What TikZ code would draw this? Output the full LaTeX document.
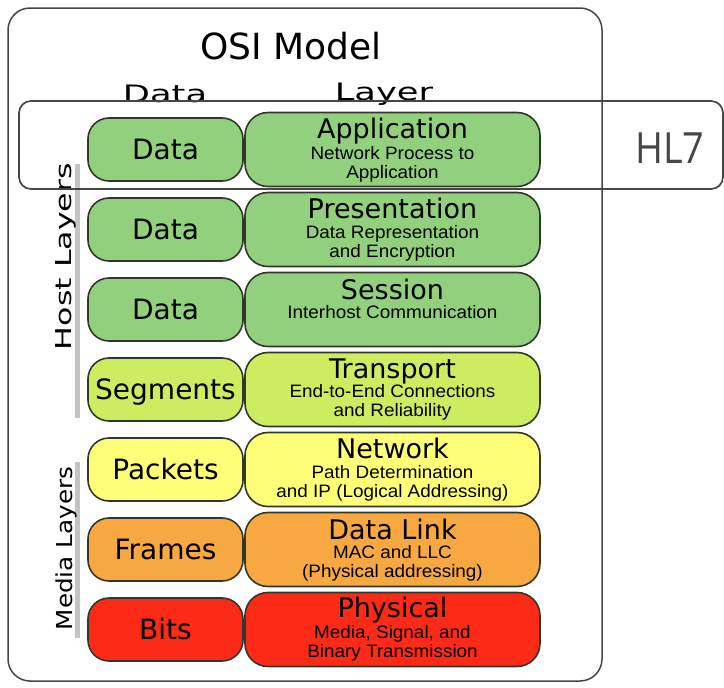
\documentclass[tikz,border=0pt]{standalone}
\usepackage{fontspec}
\usetikzlibrary{positioning}
\newfontfamily\tahoma{DejaVu Sans}
\newfontfamily\widefont[FakeStretch=1.47]{DejaVu Sans}
\newfontfamily\hostfont[FakeStretch=1.44]{DejaVu Sans}
\newfontfamily\mediafont[FakeStretch=1.12]{DejaVu Sans}
\newfontfamily\arial[FakeStretch=1.05]{Liberation Sans}
\newfontfamily\hlfont[FakeStretch=0.88]{Open Sans}
\definecolor{edge}{RGB}{48,56,44}
\definecolor{frame}{RGB}{70,70,70}
\definecolor{host}{RGB}{146,208,125}
\definecolor{trans}{RGB}{206,236,95}
\definecolor{netw}{RGB}{255,255,120}
\definecolor{link}{RGB}{248,168,64}
\definecolor{phys}{RGB}{252,42,22}
\definecolor{hlgray}{RGB}{70,70,70}
\definecolor{bar}{RGB}{196,196,196}

\begin{document}
\begin{tikzpicture}[x=1pt, y=-1pt, node distance=80pt,
                    data node/.style={draw=edge, line width=1.6pt, rounded corners=21pt,
                      minimum width=155pt, minimum height=63pt, inner sep=0pt,
                      text height=20pt, text depth=0pt, font=\tahoma\fontsize{28}{28}\selectfont},
                    layer node/.style={draw=edge, line width=1.6pt, rounded corners=23pt,
                      minimum width=295pt, minimum height=74pt, inner sep=0pt},
                    layer name/.style={anchor=base, inner sep=0pt, font=\tahoma\fontsize{27}{27}\selectfont},
                    layer info/.style={anchor=base, inner sep=0pt, align=center,
                      font=\arial\fontsize{18}{19}\selectfont},
                    side bar/.style={draw=bar, line width=4.5pt}]

  \useasboundingbox (0,0) rectangle (724,688);

  \node[draw=frame, line width=1.5pt, rounded corners=22pt, minimum width=594pt,
        minimum height=673pt, inner sep=0pt] (osi) at (305,344.5) {};

  \node[anchor=base, inner sep=0pt, font=\tahoma\fontsize{36}{36}\selectfont] (title) at (291,59) {OSI Model};
  \node[anchor=base, inner sep=0pt, font=\widefont\fontsize{24}{24}\selectfont] (hdata) at (165,102) {Data};
  \node[anchor=base, inner sep=0pt, font=\widefont\fontsize{24}{24}\selectfont] (hlayer) at (384,100) {Layer};

  \node[data node, fill=host] (d1) at (165.5,149.5) {Data};
  \node[data node, fill=host] (d2) [below of=d1] {Data};
  \node[data node, fill=host] (d3) [below of=d2] {Data};
  \node[data node, fill=trans] (d4) [below of=d3] {Segments};
  \node[data node, fill=netw] (d5) [below of=d4] {Packets};
  \node[data node, fill=link] (d6) [below of=d5] {Frames};
  \node[data node, fill=phys] (d7) [below of=d6] {Bits};

  \node[layer node, fill=host] (l1) at (392.5,149.5) {};
  \node[layer node, fill=host] (l2) [below of=l1] {};
  \node[layer node, fill=host] (l3) [below of=l2] {};
  \node[layer node, fill=trans] (l4) [below of=l3] {};
  \node[layer node, fill=netw] (l5) [below of=l4] {};
  \node[layer node, fill=link] (l6) [below of=l5] {};
  \node[layer node, fill=phys] (l7) [below of=l6] {};

  \node[layer name] (n1) at ([yshift=11pt]l1.center) {Application};
  \node[layer name] (n2) at ([yshift=11pt]l2.center) {Presentation};
  \node[layer name] (n3) at ([yshift=10pt]l3.center) {Session};
  \node[layer name] (n4) at ([yshift=11pt]l4.center) {Transport};
  \node[layer name] (n5) at ([yshift=11pt]l5.center) {Network};
  \node[layer name] (n6) at ([yshift=10pt]l6.center) {Data Link};
  \node[layer name] (n7) at ([yshift=12pt]l7.center) {Physical};

  \node[layer info] (i1) at ([yshift=-29pt]l1.center) {Network Process to\\Application};
  \node[layer info] (i2) at ([yshift=-28pt]l2.center) {Data Representation\\and Encryption};
  \node[layer info] (i3) at ([yshift=-9pt]l3.center) {Interhost Communication};
  \node[layer info] (i4) at ([yshift=-27pt]l4.center) {End-to-End Connections\\and Reliability};
  \node[layer info] (i5) at ([yshift=-28pt]l5.center) {Path Determination\\and IP (Logical Addressing)};
  \node[layer info] (i6) at ([yshift=-28pt]l6.center) {MAC and LLC\\(Physical addressing)};
  \node[layer info] (i7) at ([yshift=-28pt]l7.center) {Media, Signal, and\\Binary Transmission};

  \coordinate (hosttop) at (77.5,164);
  \coordinate (hostbot) at (77.5,418);
  \coordinate (mediatop) at (77.5,462);
  \coordinate (mediabot) at (77.5,638);
  \draw[side bar] (hosttop) -- (hostbot);
  \draw[side bar] (mediatop) -- (mediabot);

  \node[rotate=90, anchor=base, inner sep=0pt, font=\hostfont\fontsize{22}{22}\selectfont] (host) at (71.5,256.5) {Host Layers};
  \node[rotate=90, anchor=base, inner sep=0pt, font=\mediafont\fontsize{22}{22}\selectfont] (media) at (72,548.5) {Media Layers};

  \node[draw=hlgray, line width=1.7pt, rounded corners=12pt, minimum width=704pt,
        minimum height=88pt, inner sep=0pt] (hl7box) at (371,145) {};
  \node[anchor=base, inner sep=0pt, text=hlgray, font=\hlfont\fontsize{43}{43}\selectfont] (hl7) at (670,163) {HL7};

\end{tikzpicture}
\end{document}
